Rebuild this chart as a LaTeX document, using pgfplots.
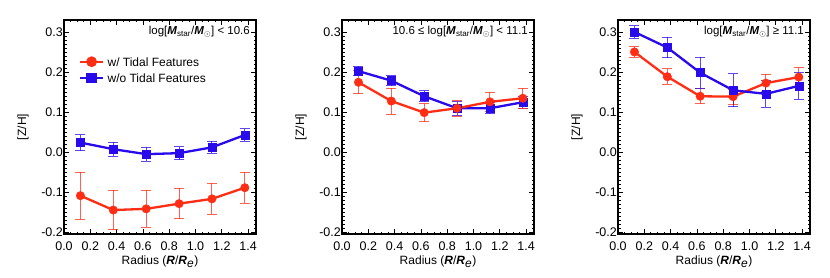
\documentclass[border=0pt]{standalone}
\usepackage{fontspec}
\setmainfont{Liberation Sans}
\usepackage{pgfplots}
\pgfplotsset{compat=1.18}
\definecolor{cred}{RGB}{255,45,20}
\definecolor{cblue}{RGB}{40,10,235}
\pgfplotsset{
  panel/.style={
    scale only axis, width=192pt, height=214pt,
    xmin=0, xmax=1.46, ymin=-0.205, ymax=0.331,
    xtick={0,0.2,...,1.4}, ytick={-0.2,-0.1,0,0.1,0.2,0.3},
    minor x tick num=3, minor y tick num=9,
    tick align=inside, xtick pos=both, ytick pos=both,
    major tick length=5pt, minor tick length=2.5pt,
    every tick/.style={black, line width=0.8pt},
    axis line style={line width=1.8pt},
    /pgf/number format/assume math mode=true,
    /pgf/number format/fixed, /pgf/number format/fixed zerofill, /pgf/number format/precision=1,
    ticklabel style={font=\fontsize{12.5}{14}\selectfont},
    yticklabel style={inner sep=1pt},
    xticklabel style={yshift=-4pt},
    xlabel={Radius (\textbf{\textit{R}}/\textbf{\textit{R}}$_{\textit{e}}$)},
    ylabel={[Z/H]},
    label style={font=\fontsize{12}{14}\selectfont},
    xlabel style={yshift=1pt},
    ylabel style={yshift=8pt},
    clip=false,
  },
  ser/.style={color=#1, line width=2.3pt, mark options={solid, fill=#1, draw=#1, line width=0.5pt},
    error bars/y dir=both, error bars/y explicit,
    error bars/error bar style={line width=1pt, draw=#1, color=#1, draw opacity=0.75},
    error bars/error mark options={rotate=90, mark size=5pt, line width=1pt, draw=#1, color=#1, draw opacity=0.75}},
  redser/.style={mark=*, mark size=4.2pt, ser=cred},
  blueser/.style={mark=square*, mark size=4pt, ser=cblue},
}
\newcommand{\ann}[1]{\node[anchor=east, font=\fontsize{11.5}{13}\selectfont, inner sep=0pt] at (rel axis cs:0.969,0.944) {#1};}
\newcommand{\mstar}{\textbf{\textit{M}}\textsubscript{star}/\textbf{\textit{M}}$_{\odot}$}
\newcommand{\lgf}{\fontsize{12}{14}\selectfont}
\begin{document}
\begin{tikzpicture}[x=1pt,y=1pt]
\path[use as bounding box] (0,0) rectangle (830,277);
% Panel 1
\begin{axis}[panel, at={(64pt,43pt)}, anchor=south west]
\addplot+[redser] table[x=x, y=y, y error=e] {
x y e
0.125 -0.109 0.059
0.375 -0.145 0.049
0.625 -0.142 0.046
0.875 -0.129 0.038
1.125 -0.117 0.039
1.375 -0.089 0.039
};
\addplot+[blueser] table[x=x, y=y, y error=e] {
x y e
0.125 0.024 0.020
0.375 0.0074 0.018
0.625 -0.005 0.0175
0.875 -0.0025 0.0165
1.125 0.012 0.015
1.375 0.043 0.0155
};
% legend samples
\addplot[cred, line width=2.3pt, mark=*, mark size=4.2pt, mark options={fill=cred}, mark indices={2}] coordinates {(0.12,0.2265) (0.21,0.2265) (0.30,0.2265)};
\addplot[cblue, line width=2.3pt, mark=square*, mark size=4pt, mark options={fill=cblue}, mark indices={2}] coordinates {(0.12,0.185) (0.21,0.185) (0.30,0.185)};
\node[anchor=west, inner sep=0pt, font=\lgf] at (axis cs:0.33,0.2265) {w/ Tidal Features};
\node[anchor=west, inner sep=0pt, font=\lgf] at (axis cs:0.33,0.185) {w/o Tidal Features};
\ann{log[\mstar] < 10.6}
\end{axis}
% Panel 2
\begin{axis}[panel, at={(342pt,43pt)}, anchor=south west]
\addplot+[blueser] table[x=x, y=y, y error=e] {
x y e
0.125 0.203 0.012
0.375 0.179 0.0125
0.625 0.140 0.014
0.875 0.110 0.018
1.125 0.110 0.014
1.375 0.125 0.015
};
\addplot+[redser] table[x=x, y=y, y error=e] {
x y e
0.125 0.175 0.029
0.375 0.128 0.0325
0.625 0.099 0.0225
0.875 0.110 0.020
1.125 0.126 0.0235
1.375 0.135 0.025
};
\ann{10.6 ≤ log[\mstar] < 11.1}
\end{axis}
% Panel 3
\begin{axis}[panel, at={(618pt,43pt)}, anchor=south west]
\addplot+[redser] table[x=x, y=y, y error=e] {
x y e
0.125 0.251 0.0135
0.375 0.189 0.0195
0.625 0.140 0.0185
0.875 0.139 0.0185
1.125 0.173 0.0215
1.375 0.188 0.0235
};
\addplot+[blueser] table[x=x, y=y, y error=e] {
x y e
0.125 0.301 0.016
0.375 0.262 0.0255
0.625 0.199 0.0385
0.875 0.155 0.0415
1.125 0.146 0.034
1.375 0.166 0.033
};
\ann{log[\mstar] ≥ 11.1}
\end{axis}
\end{tikzpicture}
\end{document}
